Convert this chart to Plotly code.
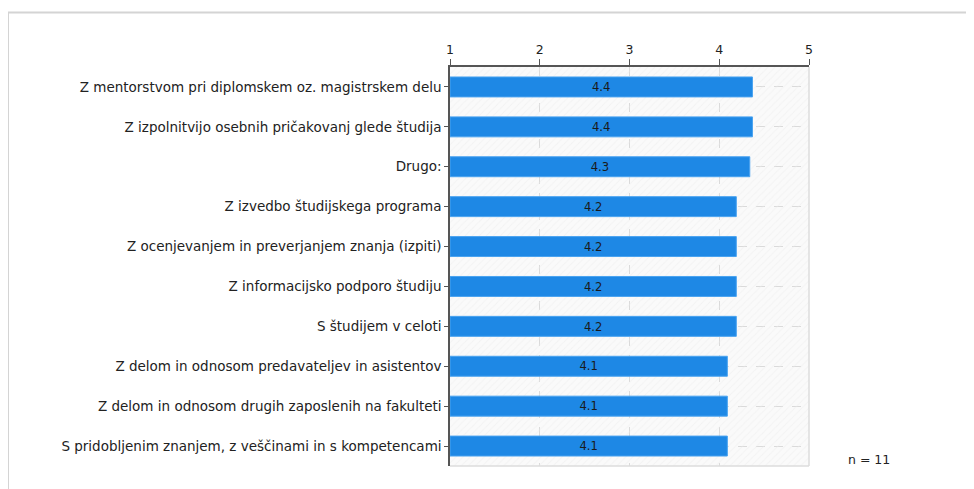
import plotly.graph_objects as go

categories = [
    "Z mentorstvom pri diplomskem oz. magistrskem delu",
    "Z izpolnitvijo osebnih pričakovanj glede študija",
    "Drugo:",
    "Z izvedbo študijskega programa",
    "Z ocenjevanjem in preverjanjem znanja (izpiti)",
    "Z informacijsko podporo študiju",
    "S študijem v celoti",
    "Z delom in odnosom predavateljev in asistentov",
    "Z delom in odnosom drugih zaposlenih na fakulteti",
    "S pridobljenim znanjem, z veščinami in s kompetencami",
]
values = [4.37, 4.37, 4.34, 4.19, 4.19, 4.19, 4.19, 4.09, 4.09, 4.09]
x_ticks = [1, 2, 3, 4, 5]
n_label = "n = 11"

OFF = 8  # page body margin
W, H = 974 - OFF, 489 - OFF
L, R, T, B = 450 - OFF, 809 - OFF, 67 - OFF, 466 - OFF  # plot area pixels

FONT = "DejaVu Sans"

fig = go.Figure()
# hatched plot background (decoration spanning the full axis range)
fig.add_trace(go.Bar(
    y=categories, x=[x_ticks[-1] - x_ticks[0]] * len(categories), base=x_ticks[0],
    orientation="h", width=1,
    marker=dict(color="rgba(0,0,0,0)", line=dict(width=0),
                pattern=dict(shape="/", fgcolor="#ececec", bgcolor="rgba(0,0,0,0)",
                             size=5, solidity=0.2)),
    hoverinfo="skip",
))
fig.add_trace(go.Bar(
    y=categories, x=[v - x_ticks[0] for v in values], base=x_ticks[0], orientation="h",
    width=0.5,
    marker=dict(color="#1e88e5", line=dict(color="#4aa3f0", width=1)),
    text=[f"{v:.1f}" for v in values], textposition="inside",
    insidetextanchor="middle", textangle=0,
    textfont=dict(family=FONT, size=12.5, color="#1a1a1a"),
    hoverinfo="skip",
))

def px(xp):
    return (xp - OFF - L) / (R - L)

def py(yp):
    return (B - (yp - OFF)) / (B - T)

shapes = [
    # outer frame (top and left)
    dict(type="line", xref="paper", yref="paper", x0=px(8), x1=px(990), y0=py(12.5), y1=py(12.5),
         line=dict(color="#d4d4d4", width=2)),
    dict(type="line", xref="paper", yref="paper", x0=px(8), x1=px(8), y0=py(12.5), y1=py(500),
         line=dict(color="#d4d4d4", width=2)),
    # right and bottom plot edges
    dict(type="line", xref="paper", yref="paper", x0=1, x1=1, y0=0, y1=1,
         line=dict(color="#dcdcdc", width=1.5)),
    dict(type="line", xref="paper", yref="paper", x0=0, x1=1, y0=0, y1=0,
         line=dict(color="#dcdcdc", width=1.5)),
]

fig.update_layout(
    width=W, height=H,
    margin=dict(l=L, r=W - R, t=T, b=H - B),
    paper_bgcolor="white",
    plot_bgcolor="#fafafa",
    showlegend=False,
    barmode="overlay",
    font=dict(family=FONT, size=12.5, color="#222"),
    shapes=shapes,
    xaxis=dict(
        range=[x_ticks[0], x_ticks[-1]], side="top", tickvals=x_ticks,
        ticktext=[str(t) for t in x_ticks],
        showline=True, linecolor="#555", linewidth=1.5,
        ticks="outside", ticklen=6, tickcolor="#555",
        showgrid=True, gridcolor="#dadada", griddash="dash", gridwidth=1,
        zeroline=False, tickfont=dict(family=FONT, size=12.5, color="#222"),
    ),
    yaxis=dict(
        autorange="reversed", showline=True, linecolor="#555", linewidth=1.5,
        ticks="outside", ticklen=4, tickcolor="#555",
        showgrid=True, gridcolor="#dadada", griddash="dash", gridwidth=1,
        tickfont=dict(family=FONT, size=13.5, color="#222"),
    ),
    annotations=[dict(
        text=n_label, xref="paper", yref="paper", x=px(869), y=py(459),
        showarrow=False, xanchor="center", yanchor="middle",
        font=dict(family=FONT, size=12.5, color="#222"),
    )],
)

fig.write_html("out.html")
